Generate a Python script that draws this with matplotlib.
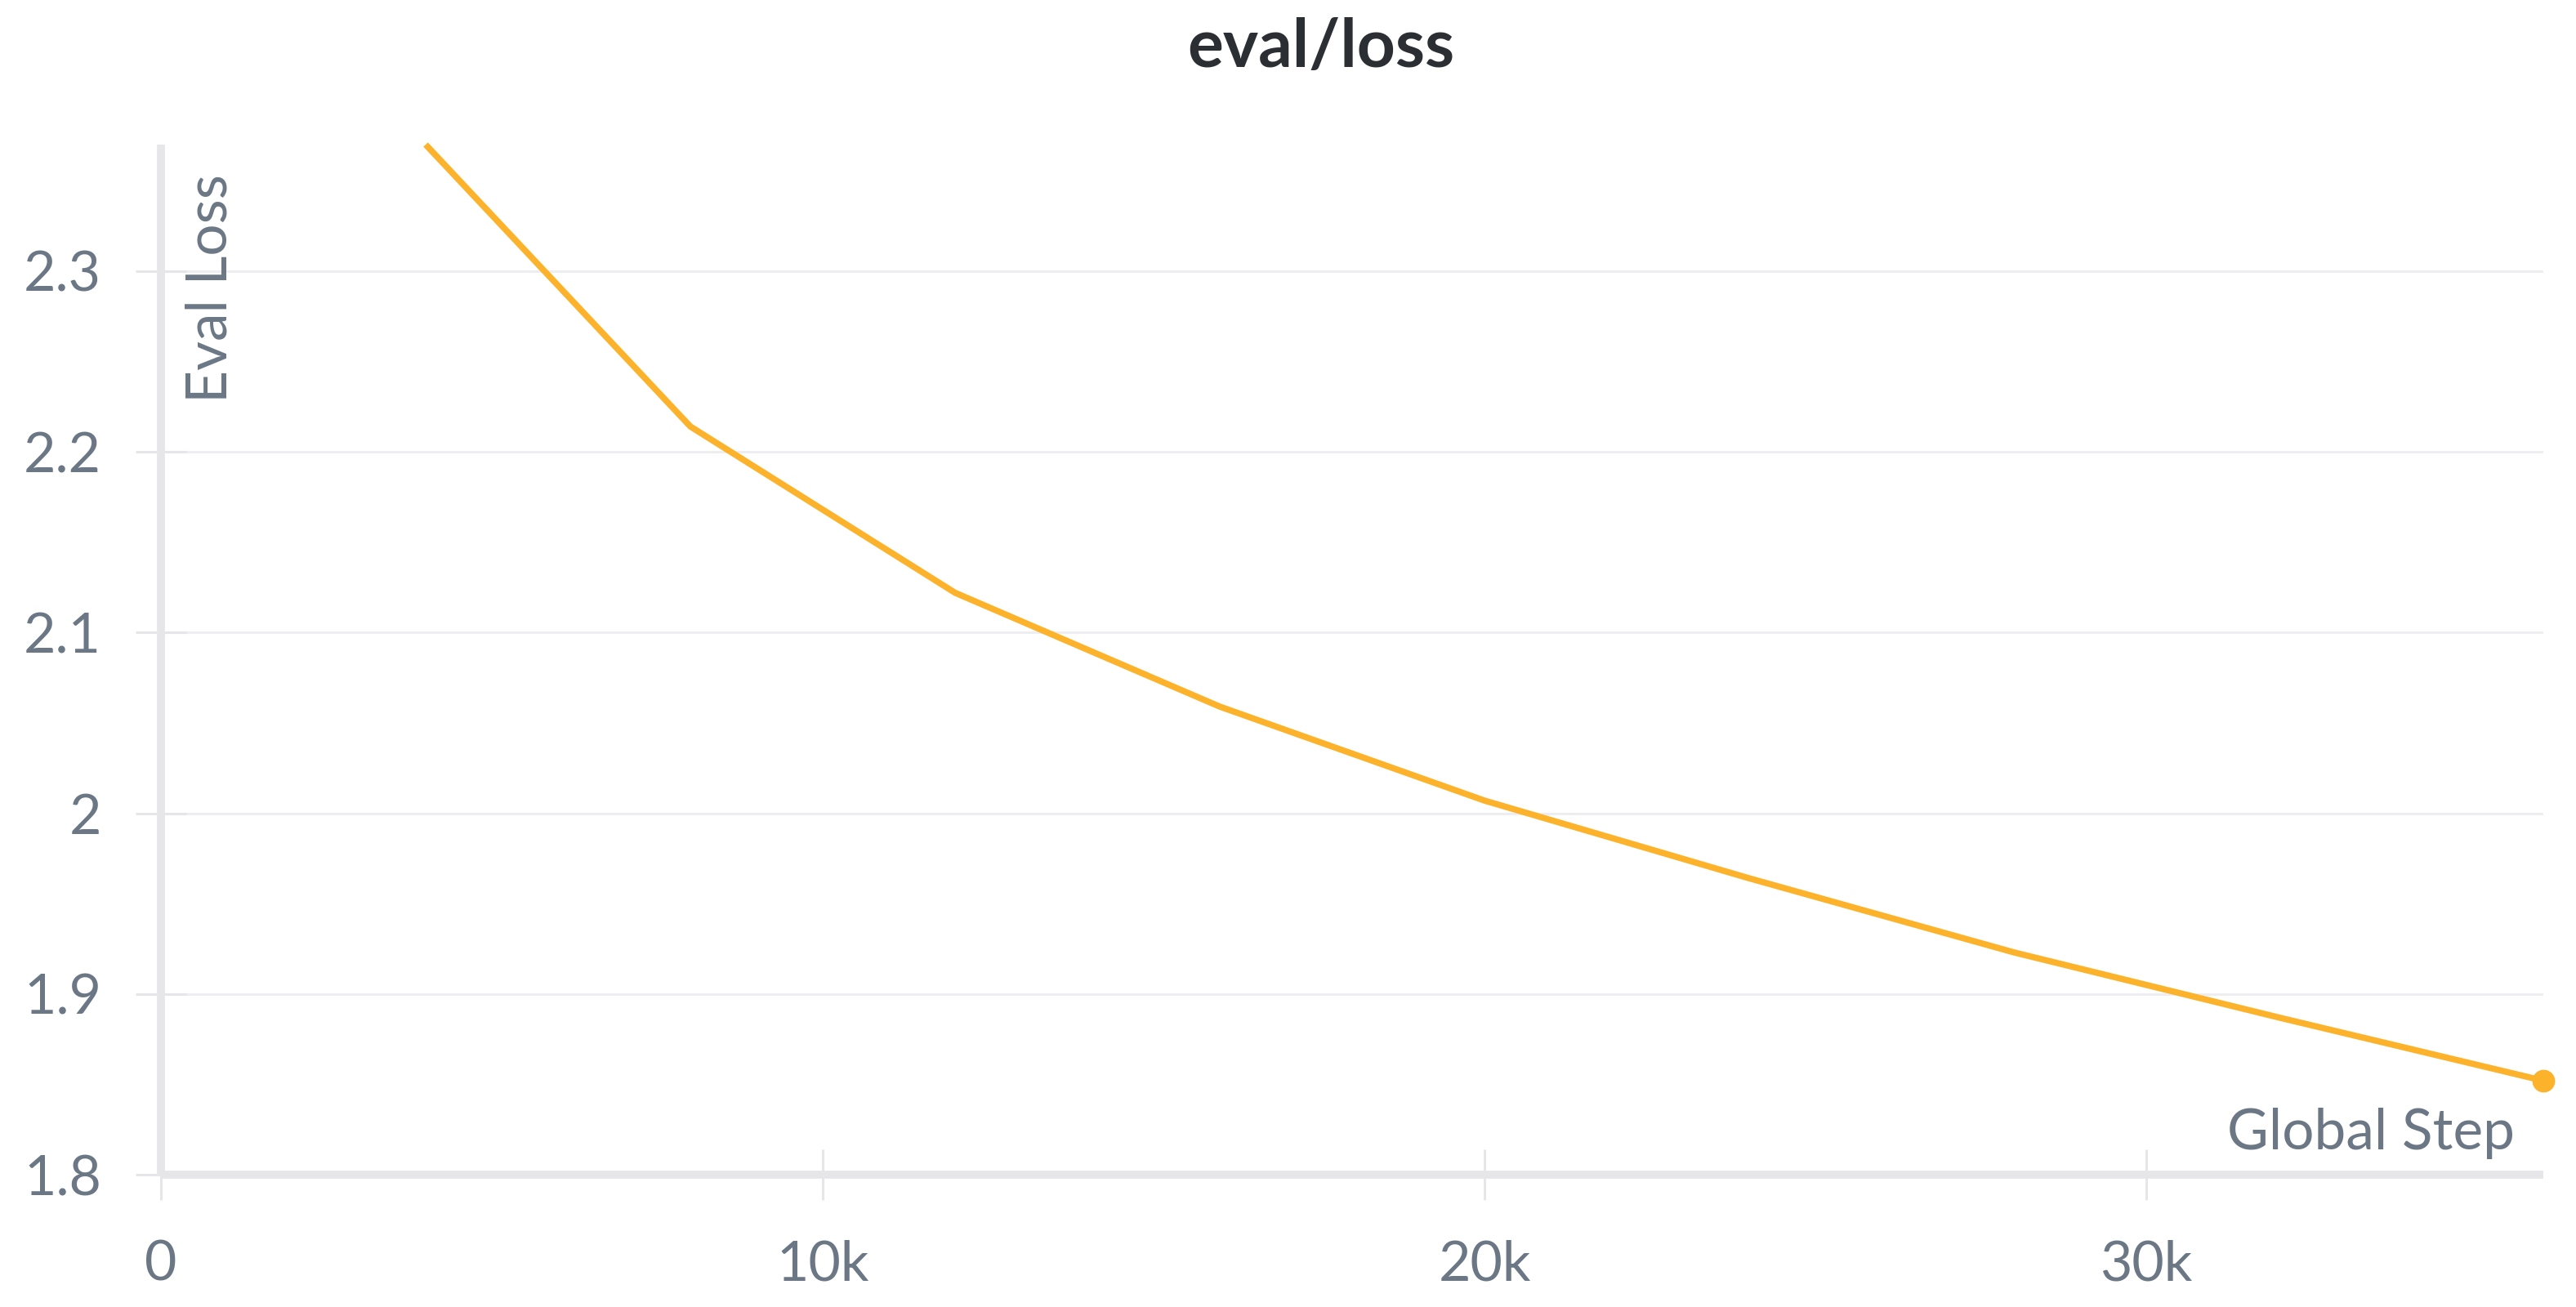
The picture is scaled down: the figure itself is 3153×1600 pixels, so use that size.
import matplotlib
matplotlib.use("Agg")
import matplotlib.pyplot as plt

plt.rcParams['font.family'] = ['Lato', 'DejaVu Sans']

# eval loss per global step
steps = [4000, 8000, 12000, 16000, 20000, 24000, 28000, 32000, 36000]
loss = [2.370, 2.214, 2.122, 2.059, 2.007, 1.964, 1.923, 1.887, 1.852]
yticks = [1.8, 1.9, 2.0, 2.1, 2.2, 2.3]
ytick_labels = ['1.8', '1.9', '2', '2.1', '2.2', '2.3']
xticks = [0, 10000, 20000, 30000]
xtick_labels = ['0', '10k', '20k', '30k']

W, H = 3153, 1600
fig = plt.figure(figsize=(W / 100, H / 100), dpi=100)
ax = fig.add_axes([197 / W, 1 - 1438 / H, (3113 - 197) / W, (1438 - 177) / H])

line_c = '#FDB22B'
txt_c = '#6B7785'
axis_c = '#E6E6E9'

ax.plot(steps, loss, color=line_c, lw=5.5, solid_capstyle='butt', zorder=3, clip_on=False)
ax.plot(steps[-1], loss[-1], 'o', color=line_c, ms=19, zorder=4, clip_on=False)

ax.set_xlim(0, 36000)
ax.set_ylim(1.8, 2.37)
ax.set_xticks(xticks)
ax.set_xticklabels(xtick_labels)
ax.set_yticks(yticks)
ax.set_yticklabels(ytick_labels)

ax.grid(axis='y', color='#EEEEF0', lw=2.2)
ax.set_axisbelow(True)
for s in ['top', 'right']:
    ax.spines[s].set_visible(False)
for s in ['left', 'bottom']:
    ax.spines[s].set_color(axis_c)
    ax.spines[s].set_linewidth(7)
    ax.spines[s].set_capstyle('butt')

ax.tick_params(axis='y', direction='inout', length=45, width=2.2, color=axis_c,
               labelsize=49, labelcolor=txt_c, pad=30)
ax.tick_params(axis='x', direction='inout', length=44, width=2.2, color=axis_c,
               labelsize=49, labelcolor=txt_c, pad=35)

fig.text(1617 / W, 1 - 58 / H, 'eval/loss', ha='center', va='center',
         fontsize=59, fontweight='bold', color='#2B2F33')
fig.text(258 / W, 1 - 213 / H, 'Eval Loss', rotation=90, ha='center', va='top',
         fontsize=50, color=txt_c)
fig.text(3078 / W, 1 - 1407 / H, 'Global Step', ha='right', va='baseline',
         fontsize=50, color=txt_c)

fig.savefig('out.png', dpi=100, facecolor='white')
